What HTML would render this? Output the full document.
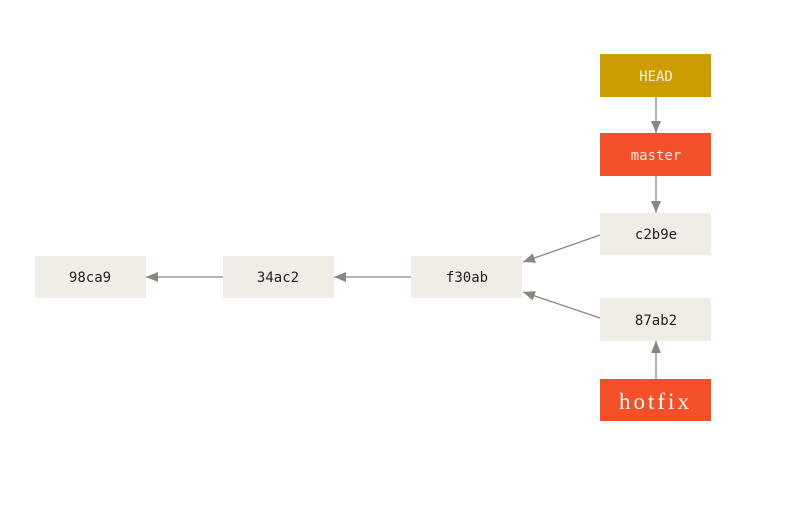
<!DOCTYPE html>
<html><head><meta charset="utf-8"><style>
body{margin:0;background:#fff;width:800px;height:512px;overflow:hidden}
</style></head><body>
<svg width="800" height="512" xmlns="http://www.w3.org/2000/svg">
<defs><marker id="a" markerWidth="12" markerHeight="10" refX="12" refY="5" orient="auto" markerUnits="userSpaceOnUse"><path d="M0,0 L12,5 L0,10 z" fill="#8a8782"/></marker></defs>
<g fill="#efede6">
<rect x="35" y="256" width="111" height="42"/>
<rect x="223" y="256" width="111" height="42"/>
<rect x="411" y="256" width="111" height="42"/>
<rect x="600" y="213" width="111" height="42"/>
<rect x="600" y="298" width="111" height="43"/>
</g>
<rect x="600" y="54" width="111" height="43" fill="#cd9d00"/>
<rect x="600" y="133" width="111" height="43" fill="#f34f29"/>
<rect x="600" y="379" width="111" height="42" fill="#f34f29"/>
<g stroke="#8a8782" stroke-width="1.3" fill="none" marker-end="url(#a)">
<line x1="656" y1="97" x2="656" y2="133"/>
<line x1="656" y1="176" x2="656" y2="213"/>
<line x1="656" y1="379" x2="656" y2="341"/>
<line x1="600" y1="235" x2="523" y2="262"/>
<line x1="600" y1="318" x2="523" y2="292"/>
<line x1="411" y1="277" x2="334" y2="277"/>
<line x1="223" y1="277" x2="146" y2="277"/>
</g>
<g font-family="DejaVu Sans Mono, Liberation Mono, monospace" font-size="14" text-anchor="middle" fill="#222">
<text x="90" y="282">98ca9</text>
<text x="278" y="282">34ac2</text>
<text x="467" y="282">f30ab</text>
<text x="656" y="239">c2b9e</text>
<text x="656" y="325">87ab2</text>
<text x="656" y="81" fill="#f2efe6">HEAD</text>
<text x="656" y="160" fill="#f2efe6">master</text>
</g>
<text x="619" y="409" font-family="Liberation Serif, serif" font-size="23" letter-spacing="3" fill="#fff">hotfix</text>
</svg>
</body></html>
